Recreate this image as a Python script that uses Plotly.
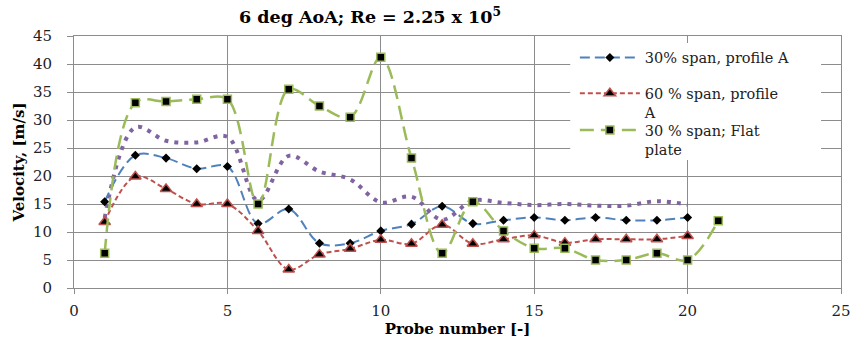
import plotly.graph_objects as go

# Probe positions
probes_20 = list(range(1, 21))
probes_21 = list(range(1, 22))

# Velocity readings [m/s]
span30_profile_a = [15.4, 23.7, 23.2, 21.3, 21.7, 11.5, 14.1, 8.0, 8.0, 10.2,
                    11.4, 14.6, 11.5, 12.1, 12.6, 12.1, 12.6, 12.1, 12.1, 12.6]
span60_profile_a = [11.8, 19.9, 17.7, 15.0, 15.0, 10.2, 3.3, 6.0, 7.0, 8.6,
                    7.9, 11.3, 7.9, 8.7, 9.4, 8.1, 8.7, 8.7, 8.7, 9.3]
span30_flat_plate = [6.2, 33.1, 33.3, 33.7, 33.7, 15.0, 35.5, 32.5, 30.5, 41.2,
                     23.2, 6.2, 15.4, 10.2, 7.1, 7.1, 5.0, 5.0, 6.2, 5.0, 12.0]
reference_run = [12.5, 28.7, 26.3, 26.0, 27.0, 15.6, 23.6, 20.8, 19.4, 15.3,
                 16.3, 12.2, 15.6, 15.2, 14.8, 15.0, 14.7, 14.7, 15.5, 14.9]

x_ticks = [0, 5, 10, 15, 20, 25]
y_ticks = [0, 5, 10, 15, 20, 25, 30, 35, 40, 45]

serif = "DejaVu Serif"
grid = "#8c8c8c"
text_col = "#222222"

fig = go.Figure()

fig.add_trace(go.Scatter(
    x=probes_20, y=reference_run, mode="lines", showlegend=False,
    line=dict(color="#8064A2", width=4, dash="4px,6px", shape="spline", smoothing=1),
))
fig.add_trace(go.Scatter(
    x=probes_20, y=span30_profile_a, mode="lines+markers",
    name="30% span, profile A", legend="legend",
    line=dict(color="#4F81BD", width=2, dash="10px,5px", shape="spline", smoothing=1),
    marker=dict(symbol="diamond", size=7, color="black", line=dict(width=0)),
))
fig.add_trace(go.Scatter(
    x=probes_20, y=span60_profile_a, mode="lines+markers",
    name="60 % span, profile<br>A", legend="legend2",
    line=dict(color="#C0504D", width=2, dash="5px,3px", shape="spline", smoothing=1),
    marker=dict(symbol="triangle-up", size=10, color="black",
                line=dict(color="#C0504D", width=1.5)),
))
fig.add_trace(go.Scatter(
    x=probes_21, y=span30_flat_plate, mode="lines+markers",
    name="30 % span; Flat<br>plate", legend="legend3",
    line=dict(color="#9BBB59", width=2.5, dash="14px,7px", shape="spline", smoothing=1),
    marker=dict(symbol="square", size=8, color="black",
                line=dict(color="#9BBB59", width=1.5)),
))

legend_style = dict(
    x=0.653, xanchor="left", yanchor="top",
    bgcolor="rgba(0,0,0,0)", borderwidth=0,
    font=dict(family=serif, size=14.5, color=text_col),
    itemwidth=60, valign="top",
)

fig.update_layout(
    width=855, height=342,
    margin=dict(l=74, r=14, t=36, b=54, autoexpand=False),
    paper_bgcolor="white", plot_bgcolor="white",
    font=dict(family=serif, color=text_col),
    title=dict(
        text="<b>6 deg AoA; Re = 2.25 x 10<sup>5</sup></b>",
        font=dict(family=serif, size=17.5, color="black"),
        xref="container", x=370 / 855, xanchor="center",
        yref="container", y=1 - 17 / 342, yanchor="middle",
    ),
    legend=dict(legend_style, y=0.978),
    legend2=dict(legend_style, y=0.836),
    legend3=dict(legend_style, y=0.690),
    # white panel behind the legend entries
    shapes=[dict(
        type="rect", xref="paper", yref="paper",
        x0=0.647, x1=0.974, y0=0.508, y1=0.972,
        fillcolor="white", line=dict(width=0), layer="above",
    )],
    xaxis=dict(
        range=[0, 25], tickvals=x_ticks, showgrid=True, gridcolor=grid, gridwidth=1,
        showline=True, linecolor=grid, linewidth=1, mirror=True,
        ticks="outside", ticklen=5, tickcolor=grid, zeroline=False,
        ticklabelstandoff=4, automargin=False,
        tickfont=dict(family=serif, size=15, color=text_col),
        title=dict(text="<b>Probe number [-]</b>", standoff=0,
                   font=dict(family=serif, size=15, color="black")),
    ),
    yaxis=dict(
        range=[0, 45], tickvals=y_ticks, showgrid=True, gridcolor=grid, gridwidth=1,
        showline=True, linecolor=grid, linewidth=1, mirror=True,
        ticks="outside", ticklen=6, tickcolor=grid, zeroline=False,
        ticklabelstandoff=12, automargin=False,
        tickfont=dict(family=serif, size=15, color=text_col),
        title=dict(text="<b>Velocity, [m/s]</b>", standoff=4,
                   font=dict(family=serif, size=15, color="black")),
    ),
)

fig.write_html("out.html")
